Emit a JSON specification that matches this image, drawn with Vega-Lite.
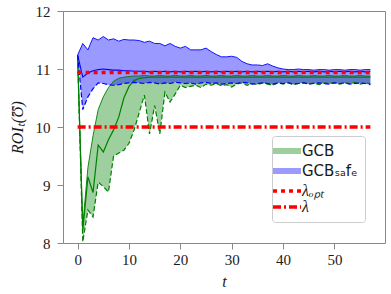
{
  "$schema": "https://vega.github.io/schema/vega-lite/v6.json",
  "width": 322,
  "height": 232,
  "autosize": {"type": "none"},
  "padding": {"left": 63, "top": 11, "right": 6, "bottom": 51},
  "background": "white",
  "config": {
    "view": {"stroke": "#888888", "strokeWidth": 1},
    "axis": {
      "grid": false,
      "domain": false,
      "tickColor": "#888888",
      "tickSize": 6,
      "labelFont": "Liberation Serif",
      "labelFontSize": 15,
      "labelColor": "#1a1a1a",
      "titleFont": "Liberation Serif",
      "titleFontSize": 16,
      "titleFontStyle": "italic",
      "titleFontWeight": "normal",
      "titleColor": "#1a1a1a"
    }
  },
  "datasets": {
    "bands": [
      {"t": 0, "glo": 11.22, "gmean": 11.22, "ghi": 11.22, "blo": 11.24, "bmean": 11.24, "bhi": 11.24},
      {"t": 1, "glo": 8.02, "gmean": 8.22, "ghi": 8.3, "blo": 10.3, "bmean": 10.86, "bhi": 11.44},
      {"t": 2, "glo": 8.57, "gmean": 9.14, "ghi": 9.3, "blo": 10.52, "bmean": 10.93, "bhi": 11.33},
      {"t": 3, "glo": 8.45, "gmean": 8.87, "ghi": 9.85, "blo": 10.66, "bmean": 10.97, "bhi": 11.54},
      {"t": 4, "glo": 9.05, "gmean": 9.69, "ghi": 10.3, "blo": 10.76, "bmean": 10.99, "bhi": 11.5},
      {"t": 5, "glo": 8.97, "gmean": 9.57, "ghi": 10.52, "blo": 10.75, "bmean": 11.0, "bhi": 11.56},
      {"t": 6, "glo": 8.88, "gmean": 9.78, "ghi": 10.68, "blo": 10.73, "bmean": 10.99, "bhi": 11.5},
      {"t": 7, "glo": 9.5, "gmean": 9.95, "ghi": 10.79, "blo": 10.72, "bmean": 10.98, "bhi": 11.52},
      {"t": 8, "glo": 9.55, "gmean": 10.17, "ghi": 10.84, "blo": 10.73, "bmean": 10.98, "bhi": 11.48},
      {"t": 9, "glo": 9.6, "gmean": 10.5, "ghi": 10.86, "blo": 10.75, "bmean": 10.97, "bhi": 11.51},
      {"t": 10, "glo": 9.72, "gmean": 10.7, "ghi": 10.87, "blo": 10.76, "bmean": 10.97, "bhi": 11.5},
      {"t": 11, "glo": 9.95, "gmean": 10.8, "ghi": 10.88, "blo": 10.77, "bmean": 10.96, "bhi": 11.5},
      {"t": 12, "glo": 10.25, "gmean": 10.84, "ghi": 10.88, "blo": 10.76, "bmean": 10.96, "bhi": 11.49},
      {"t": 13, "glo": 10.55, "gmean": 10.85, "ghi": 10.89, "blo": 10.75, "bmean": 10.96, "bhi": 11.46},
      {"t": 14, "glo": 9.88, "gmean": 10.86, "ghi": 10.88, "blo": 10.77, "bmean": 10.95, "bhi": 11.48},
      {"t": 15, "glo": 10.37, "gmean": 10.86, "ghi": 10.88, "blo": 10.76, "bmean": 10.96, "bhi": 11.44},
      {"t": 16, "glo": 9.88, "gmean": 10.86, "ghi": 10.89, "blo": 10.74, "bmean": 10.95, "bhi": 11.44},
      {"t": 17, "glo": 10.6, "gmean": 10.86, "ghi": 10.88, "blo": 10.76, "bmean": 10.96, "bhi": 11.4},
      {"t": 18, "glo": 10.43, "gmean": 10.86, "ghi": 10.88, "blo": 10.75, "bmean": 10.95, "bhi": 11.44},
      {"t": 19, "glo": 10.57, "gmean": 10.86, "ghi": 10.89, "blo": 10.77, "bmean": 10.96, "bhi": 11.39},
      {"t": 20, "glo": 10.72, "gmean": 10.86, "ghi": 10.88, "blo": 10.76, "bmean": 10.95, "bhi": 11.36},
      {"t": 21, "glo": 10.68, "gmean": 10.86, "ghi": 10.88, "blo": 10.75, "bmean": 10.96, "bhi": 11.39},
      {"t": 22, "glo": 10.7, "gmean": 10.86, "ghi": 10.89, "blo": 10.76, "bmean": 10.95, "bhi": 11.33},
      {"t": 23, "glo": 10.72, "gmean": 10.86, "ghi": 10.88, "blo": 10.74, "bmean": 10.96, "bhi": 11.33},
      {"t": 24, "glo": 10.68, "gmean": 10.86, "ghi": 10.88, "blo": 10.76, "bmean": 10.95, "bhi": 11.33},
      {"t": 25, "glo": 10.74, "gmean": 10.86, "ghi": 10.89, "blo": 10.77, "bmean": 10.96, "bhi": 11.36},
      {"t": 26, "glo": 10.72, "gmean": 10.86, "ghi": 10.88, "blo": 10.75, "bmean": 10.95, "bhi": 11.3},
      {"t": 27, "glo": 10.75, "gmean": 10.86, "ghi": 10.88, "blo": 10.76, "bmean": 10.96, "bhi": 11.25},
      {"t": 28, "glo": 10.71, "gmean": 10.86, "ghi": 10.89, "blo": 10.74, "bmean": 10.95, "bhi": 11.21},
      {"t": 29, "glo": 10.73, "gmean": 10.86, "ghi": 10.88, "blo": 10.75, "bmean": 10.96, "bhi": 11.21},
      {"t": 30, "glo": 10.69, "gmean": 10.86, "ghi": 10.88, "blo": 10.76, "bmean": 10.95, "bhi": 11.22},
      {"t": 31, "glo": 10.74, "gmean": 10.86, "ghi": 10.89, "blo": 10.75, "bmean": 10.96, "bhi": 11.2},
      {"t": 32, "glo": 10.76, "gmean": 10.86, "ghi": 10.88, "blo": 10.77, "bmean": 10.95, "bhi": 11.13},
      {"t": 33, "glo": 10.72, "gmean": 10.86, "ghi": 10.88, "blo": 10.76, "bmean": 10.96, "bhi": 11.09},
      {"t": 34, "glo": 10.75, "gmean": 10.86, "ghi": 10.89, "blo": 10.74, "bmean": 10.95, "bhi": 11.07},
      {"t": 35, "glo": 10.73, "gmean": 10.86, "ghi": 10.88, "blo": 10.75, "bmean": 10.96, "bhi": 11.07},
      {"t": 36, "glo": 10.76, "gmean": 10.86, "ghi": 10.88, "blo": 10.76, "bmean": 10.95, "bhi": 11.06},
      {"t": 37, "glo": 10.74, "gmean": 10.86, "ghi": 10.89, "blo": 10.75, "bmean": 10.96, "bhi": 11.09},
      {"t": 38, "glo": 10.72, "gmean": 10.86, "ghi": 10.88, "blo": 10.74, "bmean": 10.95, "bhi": 11.05},
      {"t": 39, "glo": 10.76, "gmean": 10.86, "ghi": 10.88, "blo": 10.76, "bmean": 10.96, "bhi": 11.02},
      {"t": 40, "glo": 10.74, "gmean": 10.86, "ghi": 10.89, "blo": 10.75, "bmean": 10.95, "bhi": 11.0},
      {"t": 41, "glo": 10.77, "gmean": 10.86, "ghi": 10.88, "blo": 10.76, "bmean": 10.96, "bhi": 10.99},
      {"t": 42, "glo": 10.73, "gmean": 10.86, "ghi": 10.88, "blo": 10.74, "bmean": 10.95, "bhi": 10.99},
      {"t": 43, "glo": 10.75, "gmean": 10.86, "ghi": 10.89, "blo": 10.75, "bmean": 10.96, "bhi": 11.0},
      {"t": 44, "glo": 10.77, "gmean": 10.86, "ghi": 10.88, "blo": 10.76, "bmean": 10.95, "bhi": 10.99},
      {"t": 45, "glo": 10.74, "gmean": 10.86, "ghi": 10.88, "blo": 10.74, "bmean": 10.96, "bhi": 10.99},
      {"t": 46, "glo": 10.76, "gmean": 10.86, "ghi": 10.89, "blo": 10.75, "bmean": 10.95, "bhi": 10.98},
      {"t": 47, "glo": 10.73, "gmean": 10.86, "ghi": 10.88, "blo": 10.76, "bmean": 10.96, "bhi": 10.99},
      {"t": 48, "glo": 10.76, "gmean": 10.86, "ghi": 10.88, "blo": 10.75, "bmean": 10.95, "bhi": 10.99},
      {"t": 49, "glo": 10.75, "gmean": 10.86, "ghi": 10.89, "blo": 10.74, "bmean": 10.96, "bhi": 10.98},
      {"t": 50, "glo": 10.77, "gmean": 10.86, "ghi": 10.88, "blo": 10.76, "bmean": 10.95, "bhi": 10.99},
      {"t": 51, "glo": 10.74, "gmean": 10.86, "ghi": 10.88, "blo": 10.75, "bmean": 10.96, "bhi": 10.99},
      {"t": 52, "glo": 10.76, "gmean": 10.86, "ghi": 10.89, "blo": 10.76, "bmean": 10.95, "bhi": 10.98},
      {"t": 53, "glo": 10.75, "gmean": 10.86, "ghi": 10.88, "blo": 10.74, "bmean": 10.96, "bhi": 10.99},
      {"t": 54, "glo": 10.77, "gmean": 10.86, "ghi": 10.88, "blo": 10.75, "bmean": 10.95, "bhi": 10.99},
      {"t": 55, "glo": 10.74, "gmean": 10.86, "ghi": 10.89, "blo": 10.76, "bmean": 10.96, "bhi": 10.98},
      {"t": 56, "glo": 10.76, "gmean": 10.86, "ghi": 10.88, "blo": 10.75, "bmean": 10.95, "bhi": 10.99},
      {"t": 57, "glo": 10.75, "gmean": 10.86, "ghi": 10.88, "blo": 10.73, "bmean": 10.96, "bhi": 10.99}
    ],
    "refs": [
      {"series": "λ_opt", "y": 10.94, "t0": 0, "t1": 57},
      {"series": "λ", "y": 10.0, "t0": 0, "t1": 57}
    ]
  },
  "encoding": {
    "x": {
      "field": "t", "type": "quantitative",
      "scale": {"domain": [-2.85, 59.85], "nice": false, "zero": false},
      "axis": {"values": [0, 10, 20, 30, 40, 50], "format": "d", "title": "t", "labelPadding": 3, "titlePadding": 6}
    }
  },
  "layer": [
    {
      "data": {"name": "bands"},
      "mark": {"type": "area", "color": "#008000", "opacity": 0.38},
      "encoding": {
        "y": {"field": "glo", "type": "quantitative",
          "scale": {"domain": [8, 12], "nice": false, "zero": false},
          "axis": {"values": [8, 9, 10, 11, 12], "format": "d", "title": "ROIₜ(Ʊ)", "labelPadding": 7, "titlePadding": 10}},
        "y2": {"field": "ghi"}
      }
    },
    {
      "data": {"name": "bands"},
      "mark": {"type": "area", "color": "#0000ff", "opacity": 0.4},
      "encoding": {"y": {"field": "blo", "type": "quantitative"}, "y2": {"field": "bhi"}}
    },
    {
      "data": {"name": "bands"},
      "mark": {"type": "line", "color": "#008000", "strokeWidth": 0.9},
      "encoding": {"y": {"field": "ghi", "type": "quantitative"}}
    },
    {
      "data": {"name": "bands"},
      "mark": {"type": "line", "color": "#008000", "strokeWidth": 1.2},
      "encoding": {"y": {"field": "gmean", "type": "quantitative"}}
    },
    {
      "data": {"name": "bands"},
      "mark": {"type": "line", "color": "#008000", "strokeWidth": 1.2, "strokeDash": [5, 2.5]},
      "encoding": {"y": {"field": "glo", "type": "quantitative"}}
    },
    {
      "data": {"name": "bands"},
      "mark": {"type": "line", "color": "#0000ff", "strokeWidth": 0.9},
      "encoding": {"y": {"field": "bhi", "type": "quantitative"}}
    },
    {
      "data": {"name": "bands"},
      "mark": {"type": "line", "color": "#0000ff", "strokeWidth": 1.1},
      "encoding": {"y": {"field": "bmean", "type": "quantitative"}}
    },
    {
      "data": {"name": "bands"},
      "mark": {"type": "line", "color": "#0000ff", "strokeWidth": 1.2, "strokeDash": [5, 2.5]},
      "encoding": {"y": {"field": "blo", "type": "quantitative"}}
    },
    {
      "data": {"name": "refs"},
      "mark": {"type": "rule", "strokeWidth": 3.5},
      "encoding": {
        "x": {"field": "t0", "type": "quantitative"},
        "x2": {"field": "t1"},
        "y": {"field": "y", "type": "quantitative"},
        "color": {
          "field": "series", "type": "nominal",
          "scale": {"domain": ["GCB", "GCB_safe", "λ_opt", "λ"], "range": ["#9ccf9c", "#9b9bff", "#ff0000", "#ff0000"]},
          "legend": {
            "title": null,
            "orient": "none",
            "legendX": 209,
            "legendY": 125,
            "padding": 7,
            "strokeColor": "#cccccc",
            "fillColor": "white",
            "cornerRadius": 3,
            "symbolType": "stroke",
            "symbolSize": 784,
            "symbolStrokeWidth": 3.5,
            "labelOffset": 7,
            "rowPadding": -4,
            "labelFont": "DejaVu Sans",
            "labelFontSize": 15,
            "labelColor": "#1a1a1a",
            "labelExpr": "datum.value === 'GCB_safe' ? 'GCBₛₐfₑ' : datum.value === 'λ_opt' ? 'λₒₚₜ' : datum.value",
            "encode": {
              "symbols": {"update": {"strokeWidth": {"signal": "datum.value === 'GCB' || datum.value === 'GCB_safe' ? 6 : 3.5"}}},
              "labels": {"update": {
                "font": {"signal": "datum.value === 'GCB' || datum.value === 'GCB_safe' ? 'DejaVu Sans' : 'Liberation Serif'"},
                "fontStyle": {"signal": "datum.value === 'GCB' || datum.value === 'GCB_safe' ? 'normal' : 'italic'"},
                "fontSize": {"signal": "datum.value === 'GCB' || datum.value === 'GCB_safe' ? 15 : 16"}
              }}
            }
          }
        },
        "strokeDash": {
          "field": "series", "type": "nominal",
          "scale": {"domain": ["GCB", "GCB_safe", "λ_opt", "λ"], "range": [[1, 0], [1, 0], [4, 4], [8, 3, 2, 3]]}
        }
      }
    }
  ]
}
